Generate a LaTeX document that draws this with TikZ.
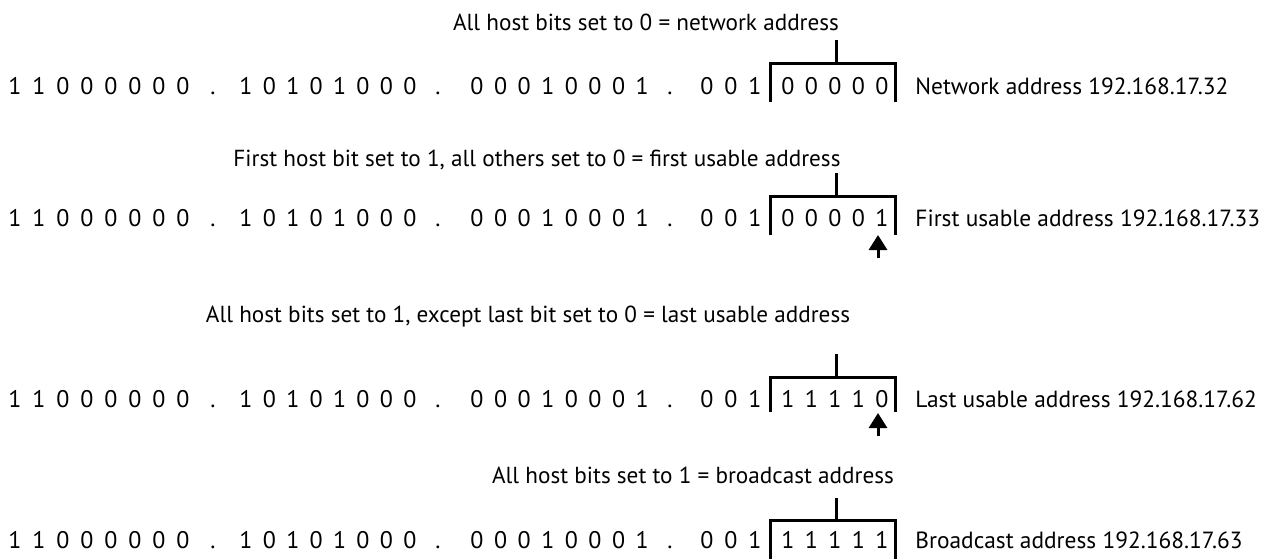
\documentclass[tikz,border=0pt]{standalone}
\usepackage{fontspec}
\setmainfont{PT Sans}
\usetikzlibrary{arrows.meta}

\begin{document}
\begin{tikzpicture}[
            x=0.5pt, y=-0.5pt,
            bit/.style = {
                anchor=base,
                inner sep=0pt,
                font=\fontsize{12}{14}\selectfont
            },
            caption/.style = {
                anchor=base,
                inner sep=0pt,
                font=\fontsize{11.6}{14}\selectfont
            },
            addr/.style = {
                anchor=base west,
                inner sep=0pt,
                font=\fontsize{11.7}{14}\selectfont
            },
            bracket/.style = {
                line width=1.5pt,
                line join=miter
            },
            pointer/.style = {
                line width=1.5pt,
                -{Triangle[width=9pt,length=7.5pt]}
            }
        ]
            \useasboundingbox (0,0) rectangle (1271,559);

            % rows: number / digit baseline / host bits / label
            \foreach \r/\y/\ha/\hb/\hc/\hd/\he/\txt in {
                1/94/0/0/0/0/0/{Network address 192.168.17.32},
                2/226/0/0/0/0/1/{First usable address 192.168.17.33},
                3/407/1/1/1/1/0/{Last usable address 192.168.17.62},
                4/548/1/1/1/1/1/{Broadcast address 192.168.17.63}} {
                \foreach \b [count=\i from 0] in {1,1,0,0,0,0,0,0}
                    \node[bit] (r\r a\i) at ({15+24*\i}, \y) {\b};
                \node[bit] (r\r d1) at (213, \y) {.};
                \foreach \b [count=\i from 0] in {1,0,1,0,1,0,0,0}
                    \node[bit] (r\r b\i) at ({246+23.4*\i}, \y) {\b};
                \node[bit] (r\r d2) at (438, \y) {.};
                \foreach \b [count=\i from 0] in {0,0,0,1,0,0,0,1}
                    \node[bit] (r\r c\i) at ({477+23.6*\i}, \y) {\b};
                \node[bit] (r\r d3) at (670, \y) {.};
                \foreach \b [count=\i from 0] in {0,0,1}
                    \node[bit] (r\r n\i) at ({707+24*\i}, \y) {\b};
                \foreach \b [count=\i from 0] in {\ha,\hb,\hc,\hd,\he}
                    \node[bit] (r\r h\i) at ({788+23.5*\i}, \y) {\b};
                \node[addr] (r\r addr) at (915, \y) {\txt};
            }

            % captions above the host bits
            \node[caption] (t1) at (646, 30) {All host bits set to 0 = network address};
            \node[caption] (t2) at (537, 166) {First host bit set to 1, all others set to 0 = first usable address};
            \node[caption] (t3) at (528, 322) {All host bits set to 1, except last bit set to 0 = last usable address};
            \node[caption] (t4) at (693, 483) {All host bits set to 1 = broadcast address};

            % brackets round the host bits
            \foreach \top/\stem/\bot in {63/40/102, 196/173/235, 377/354/412, 520/498/559} {
                \draw[bracket] (770, \bot) -- (770, \top) -- (895, \top) -- (895, \bot);
                \draw[bracket] (836, \stem) -- (836, \top);
            }

            % arrows to the changed bit
            \coordinate (p2) at (878, 258);
            \coordinate (q2) at (878, 235);
            \coordinate (p3) at (878, 436);
            \coordinate (q3) at (878, 413);
            \draw[pointer] (p2) -- (q2);
            \draw[pointer] (p3) -- (q3);

        \end{tikzpicture}
\end{document}
